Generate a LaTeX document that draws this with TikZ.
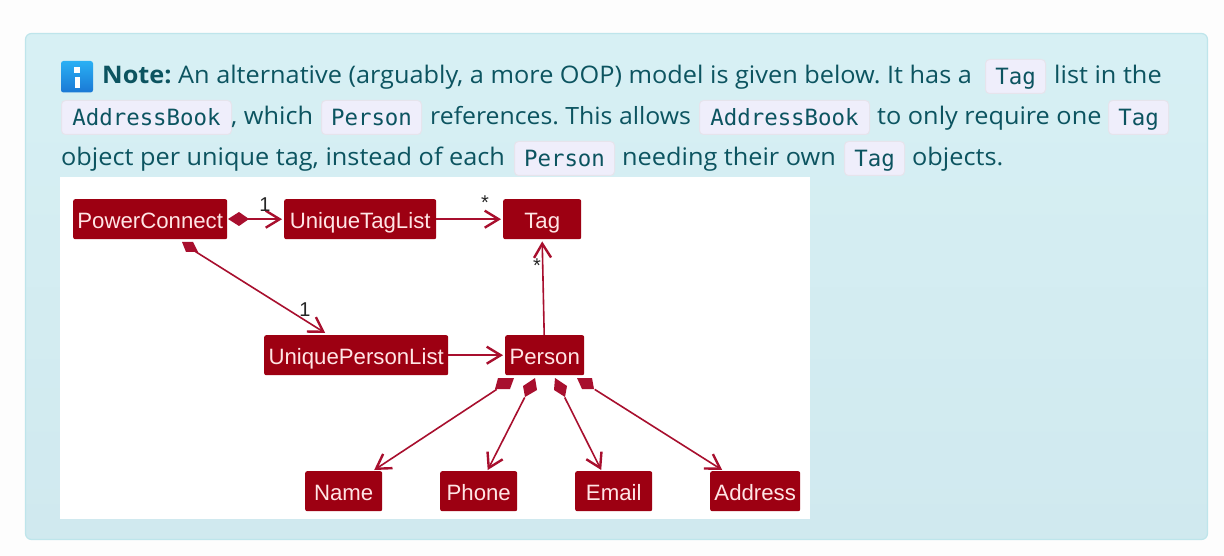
\documentclass[tikz,border=0pt]{standalone}
\usepackage{fontspec}
\setmainfont[FakeStretch=1.045]{Open Sans}
\newfontfamily\boxfont{Liberation Sans}
\newfontfamily\chipfont{DejaVu Sans Mono}
\usetikzlibrary{arrows.meta,calc}
\definecolor{pagebg}{HTML}{FDFDFD}
\definecolor{notetop}{HTML}{D7F0F4}
\definecolor{notebot}{HTML}{D0E9EF}
\definecolor{noteedge}{HTML}{BEE5EB}
\definecolor{notetext}{HTML}{0C5460}
\definecolor{chipfill}{HTML}{EFEEFB}
\definecolor{chipedge}{HTML}{E6E4EC}
\definecolor{umlbox}{HTML}{9D0012}
\definecolor{umlline}{HTML}{A80F2E}
\definecolor{icontop}{HTML}{29B0F4}
\definecolor{iconbot}{HTML}{1A78D4}
\frenchspacing
\tikzset{
  x=1pt,y=-1pt,
  bodytext/.style={anchor=base west,inner sep=0pt,text=notetext,font=\fontsize{24.2}{28}\selectfont},
  chip/.style={anchor=north west,minimum height=34pt,inner sep=0pt,rounded corners=4pt,
    draw=chipedge,line width=1pt,fill=chipfill,text=notetext,
    font=\chipfont\fontsize{22.4}{26}\selectfont,text height=17pt,text depth=0pt},
  umlclass/.style={anchor=north west,minimum height=40pt,inner sep=0pt,rounded corners=2pt,
    fill=umlbox,text=white!90!red,font=\boxfont\fontsize{22.2}{26}\selectfont,text height=18pt,text depth=0pt},
  card/.style={inner sep=0pt,text=black!85,font=\boxfont\fontsize{20}{22}\selectfont},
  assoc/.style={draw=umlline,line width=1.6pt,-{Straight Barb[length=14pt,width=17pt,line width=2.4pt]}},
  dmd/.style={fill=umlline,draw=none},
}
\begin{document}
\begin{tikzpicture}
\useasboundingbox (0,0) rectangle (1224,556);
\fill[pagebg] (0,0) rectangle (1224,556);
\shade[top color=notetop,bottom color=notebot,rounded corners=6pt] (25.5,33.5) rectangle (1207.5,539.5);
\draw[noteedge,line width=1.2pt,rounded corners=6pt] (25.5,33.5) rectangle (1207.5,539.5);
% icon
\shade[top color=icontop,bottom color=iconbot,rounded corners=2.5pt] (61,61) rectangle (93,92.5);
\fill[white] (74.2,67) rectangle (79.8,73);
\fill[white] (75,77) rectangle (79.5,88.5);
% text, line 1
\node[bodytext,font=\bfseries\fontsize{24.2}{28}\selectfont] (noteword) at (102,84) {Note:};
\node[bodytext] (l1a) at (178,84) {An alternative (arguably, a more OOP) model is given below. It has a};
\node[chip,minimum width=60pt] (c1) at (985,59) {Tag};
\node[bodytext] (l1b) at (1054,84) {list in the};
% line 2
\node[chip,minimum width=170pt] (c2) at (61,100) {AddressBook};
\node[bodytext] (l2a) at (231,125) {, which};
\node[chip,minimum width=100pt] (c3) at (321,100) {Person};
\node[bodytext,font=\fontsize{23.75}{28}\selectfont] (l2b) at (430,125) {references. This allows};
\node[chip,minimum width=170pt] (c4) at (699,100) {AddressBook};
\node[bodytext] (l2c) at (877,125) {to only require one};
\node[chip,minimum width=60pt] (c5) at (1108,100) {Tag};
% line 3
\node[bodytext] (l3a) at (61,166) {object per unique tag, instead of each};
\node[chip,minimum width=100pt] (c6) at (514,141) {Person};
\node[bodytext] (l3b) at (622,166) {needing their own};
\node[chip,minimum width=60pt] (c7) at (844,141) {Tag};
\node[bodytext] (l3c) at (912,166) {objects.};
% diagram image
\fill[white] (60,177) rectangle (810,519);
\node[umlclass,minimum width=154pt] (pc) at (73,199) {PowerConnect};
\node[umlclass,minimum width=152pt] (utl) at (284,199) {UniqueTagList};
\node[umlclass,minimum width=78pt] (tag) at (503,199) {Tag};
\node[umlclass,minimum width=184pt] (upl) at (264,335) {UniquePersonList};
\node[umlclass,minimum width=79pt] (person) at (505,335) {Person};
\node[umlclass,minimum width=77pt] (name) at (305,471) {Name};
\node[umlclass,minimum width=77pt] (phone) at (440,471) {Phone};
\node[umlclass,minimum width=77pt] (email) at (575,471) {Email};
\node[umlclass,minimum width=90pt] (address) at (710,471) {Address};
% diamonds
\fill[dmd] (228,219) -- (239,212) -- (249,219) -- (239,226) -- cycle;
\fill[dmd] (182,242) -- (193,242) -- (198,252) -- (186,252) -- cycle;
\fill[dmd] (498,378) -- (514,378) -- (510,389) -- (495,389) -- cycle;
\fill[dmd] (535,378) -- (523,386) -- (525,397) -- (537,390) -- cycle;
\fill[dmd] (555,378) -- (567,386) -- (565,397) -- (554,390) -- cycle;
\fill[dmd] (577,378) -- (592,378) -- (594,389) -- (582,389) -- cycle;
% connectors
\draw[assoc] ($(pc.east)+(20,0)$) -- ($(utl.west)+(-2,0)$);
\draw[assoc] ($(pc.south)+(45,12)$) -- ($(upl.north)+(-31,-2)$);
\draw[assoc] (utl.east) -- ($(tag.west)+(-2,0)$);
\draw[assoc] (person.north) ++(-0.5,0) -- ($(tag.south)+(0,2)$);
\draw[assoc] (upl.east) -- ($(person.west)+(-2,0)$);
\draw[assoc] ($(person.south)+(-48,14)$) -- ($(name.north)+(30.5,-1)$);
\draw[assoc] ($(person.south)+(-20,22)$) -- ($(phone.north)+(9,-1)$);
\draw[assoc] ($(person.south)+(20,22)$) -- ($(email.north)+(-12.5,-1)$);
\draw[assoc] ($(person.south)+(50,14)$) -- ($(address.north)+(-33,-1)$);
% multiplicities
\node[card] (m1) at (265,205) {1};
\node[card] (m2) at (305,310) {1};
\node[card] (m3) at (485,203) {*};
\node[card] (m4) at (537,266) {*};
\end{tikzpicture}
\end{document}
